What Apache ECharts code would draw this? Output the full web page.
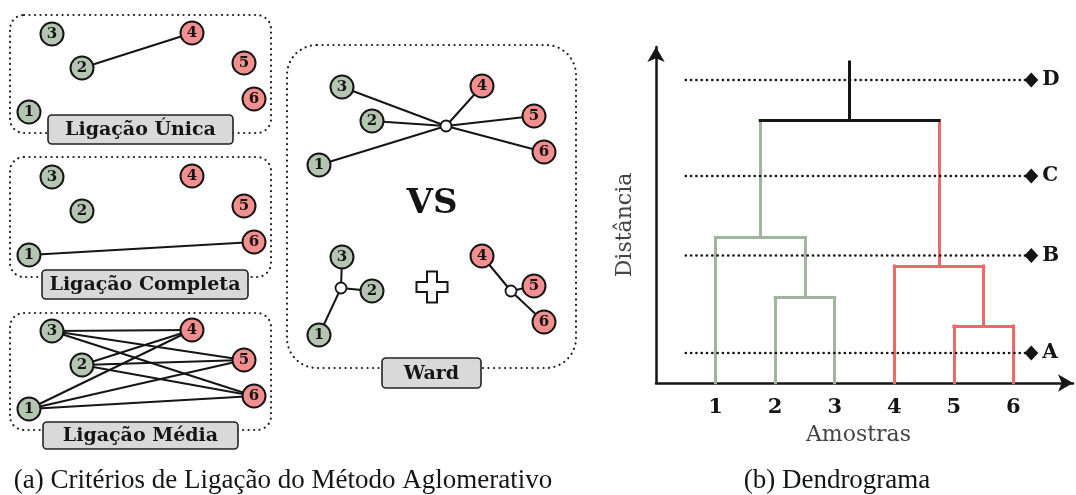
<!DOCTYPE html>
<html>
<head>
<meta charset="utf-8">
<script src="https://cdn.jsdelivr.net/npm/echarts@6/dist/echarts.min.js"></script>
<style>
  html, body { margin: 0; padding: 0; background: #ffffff; }
  #chart { width: 1076px; height: 495px; }
</style>
</head>
<body>
<div id="chart"></div>
<script>
// ---- Six samples in a 2-D feature plane (same layout in every linkage panel)
const sampleNames = ['1', '2', '3', '4', '5', '6'];
const sampleX = [29, 82, 52, 192, 244, 254];
const sampleY = [112, 68, 34, 33, 63, 99];
const sampleGroup = [0, 0, 0, 1, 1, 1];

// ---- Pairs joined by each linkage criterion (sample indices)
const singleLinks = [[1, 3]];
const completeLinks = [[0, 5]];
const averageLinks = [[0, 3], [0, 4], [0, 5], [1, 3], [1, 4], [1, 5], [2, 3], [2, 4], [2, 5]];

// ---- Ward: centroid of the merged cluster vs centroids of the two clusters
const wardHubAll = [156, 73];
const wardHubGreen = [51, 65];
const wardHubRed = [221, 68];

// ---- Dendrogram: merges as [childA, childB, height]; new cluster ids start at 6
const leafLabels = ['1', '2', '3', '4', '5', '6'];
const merges = [[1, 2, 2.85], [4, 5, 1.9], [3, 7, 3.9], [0, 6, 4.85], [9, 8, 8.75]];
const rootStemTop = 10.7;
const cutNames = ['A', 'B', 'C', 'D'];
const cutHeights = [1.0, 4.25, 6.9, 10.1];

// ---- Panel texts
const panelTitles = ['Ligação Única', 'Ligação Completa', 'Ligação Média', 'Ward'];
const captionA = '(a) Critérios de Ligação do Método Aglomerativo';
const captionB = '(b) Dendrograma';

// ---- Styling
const SERIF = '"DejaVu Serif", serif';
const INK = '#151515';
const NODE_FILL = ['#b4c5b1', '#f48f8f'];
const TREE_COLOR = ['#a2b4a0', '#ee6a6a'];

// grid origins for the five point diagrams (3 linkage panels + 2 Ward views)
const panelOrigins = [[0, 0], [0, 143], [0, 297], [290, 53], [290, 223]];
const PANEL_W = 280, PANEL_H = 150;

function sampleNodes() {
  return sampleNames.map((n, i) => ({
    name: n,
    value: [sampleX[i], sampleY[i]],
    symbolSize: 23,
    itemStyle: { color: NODE_FILL[sampleGroup[i]], borderColor: INK, borderWidth: 2 },
    label: { show: true }
  }));
}
function hubNode(name, p) {
  return {
    name: name, value: p, symbolSize: 11,
    itemStyle: { color: '#ffffff', borderColor: INK, borderWidth: 1.8 },
    label: { show: false }
  };
}
function graphSeries(idx, nodes, links) {
  return {
    type: 'graph', layout: 'none', coordinateSystem: 'cartesian2d',
    xAxisIndex: idx, yAxisIndex: idx, silent: true, z: 3,
    data: nodes,
    links: links.map(([s, t]) => ({ source: s, target: t })),
    lineStyle: { color: INK, width: 2, opacity: 1, curveness: 0 },
    label: { position: 'inside', formatter: '{b}', fontFamily: SERIF, fontWeight: 'bold', fontSize: 15, color: INK },
    emphasis: { disabled: true }
  };
}

const grids = [], xAxes = [], yAxes = [];
panelOrigins.forEach(([l, t], i) => {
  grids.push({ left: l, top: t, width: PANEL_W, height: PANEL_H });
  xAxes.push({ gridIndex: i, type: 'value', min: 0, max: PANEL_W, show: false });
  yAxes.push({ gridIndex: i, type: 'value', min: 0, max: PANEL_H, inverse: true, show: false });
});

// dendrogram grid
const DG = 5;
grids.push({ left: 656, top: 47, width: 418, height: 336 });
xAxes.push({
  gridIndex: DG, type: 'value', min: 0, max: 7, interval: 1,
  axisLine: { show: true, symbol: ['none', 'arrow'], symbolSize: [13, 15], lineStyle: { color: INK, width: 2.5 } },
  axisTick: { show: false }, splitLine: { show: false },
  axisLabel: {
    formatter: v => (v >= 1 && v <= leafLabels.length) ? leafLabels[v - 1] : '',
    fontFamily: SERIF, fontWeight: 'bold', fontSize: 21, color: INK, margin: 14
  },
  name: 'Amostras', nameLocation: 'middle', nameGap: 41,
  nameTextStyle: { fontFamily: SERIF, fontSize: 22, color: '#444444', padding: [0, 12, 0, 0] }
});
yAxes.push({
  gridIndex: DG, type: 'value', min: 0, max: 11.2,
  axisLine: { show: true, symbol: ['none', 'arrow'], symbolSize: [13, 15], lineStyle: { color: INK, width: 2.5 } },
  axisTick: { show: false }, splitLine: { show: false }, axisLabel: { show: false },
  name: 'Distância', nameLocation: 'middle', nameGap: 20, nameRotate: 90,
  nameTextStyle: { fontFamily: SERIF, fontSize: 22, color: '#444444', padding: [0, 20, 0, 0] }
});

// ---- dendrogram geometry from the merge table
const nLeaf = leafLabels.length;
const pos = [], hgt = [], grp = [];
for (let i = 0; i < nLeaf; i++) { pos[i] = i + 1; hgt[i] = 0; grp[i] = sampleGroup[i]; }
merges.forEach(([a, b, h], k) => {
  const id = nLeaf + k;
  pos[id] = (pos[a] + pos[b]) / 2;
  hgt[id] = h;
  grp[id] = grp[a] === grp[b] ? grp[a] : -1;
});
const colorOf = g => g < 0 ? INK : TREE_COLOR[g];
const verticals = [], horizontals = [];
merges.forEach(([a, b, h], k) => {
  const id = nLeaf + k;
  [a, b].forEach(c => verticals.push({
    coords: [[pos[c], hgt[c]], [pos[c], h]], lineStyle: { color: colorOf(grp[c]) }
  }));
  horizontals.push({ coords: [[pos[a], h], [pos[b], h]], lineStyle: { color: colorOf(grp[id]) } });
});
const root = nLeaf + merges.length - 1;
verticals.push({ coords: [[pos[root], hgt[root]], [pos[root], rootStemTop]], lineStyle: { color: colorOf(grp[root]) } });

const series = [
  graphSeries(0, sampleNodes(), singleLinks),
  graphSeries(1, sampleNodes(), completeLinks),
  graphSeries(2, sampleNodes(), averageLinks),
  graphSeries(3, sampleNodes().concat([hubNode('c', wardHubAll)]),
    sampleNames.map((n, i) => [i, 6])),
  graphSeries(4, sampleNodes().concat([hubNode('cg', wardHubGreen), hubNode('cr', wardHubRed)]),
    sampleNames.map((n, i) => [i, sampleGroup[i] === 0 ? 6 : 7])),
  {
    type: 'lines', coordinateSystem: 'cartesian2d', xAxisIndex: DG, yAxisIndex: DG,
    polyline: false, silent: true, z: 3,
    lineStyle: { width: 3, opacity: 1, curveness: 0, cap: 'square' },
    data: verticals.concat(horizontals)
  }
];
cutNames.forEach((name, i) => {
  series.push({
    type: 'line', name: name, xAxisIndex: DG, yAxisIndex: DG, silent: true, z: 4,
    data: [
      { value: [0.5, cutHeights[i]], symbol: 'none' },
      { value: [6.3, cutHeights[i]], symbol: 'diamond', symbolSize: [14, 15] }
    ],
    showSymbol: true,
    itemStyle: { color: INK },
    lineStyle: { color: INK, width: 2.6, type: [0.1, 5.2], cap: 'round' },
    endLabel: { show: true, formatter: '{a}', fontFamily: SERIF, fontWeight: 'bold', fontSize: 20, color: INK, distance: 11 },
    animation: false
  });
});

// ---- frames and title tags of the left diagrams
const frames = [
  { x: 10, y: 15, w: 261, h: 118, r: 14 },
  { x: 10, y: 157, w: 261, h: 120, r: 14 },
  { x: 10, y: 313, w: 261, h: 117, r: 14 },
  { x: 287, y: 45, w: 289, h: 323, r: 30 }
];
const tags = [
  { x: 48, y: 115, w: 185, h: 29 },
  { x: 42, y: 270, w: 206, h: 29 },
  { x: 43, y: 422, w: 195, h: 27 },
  { x: 382, y: 358, w: 99, h: 30 }
];
const graphic = [];
frames.forEach(f => graphic.push({
  type: 'rect', silent: true, z: 1,
  shape: { x: f.x, y: f.y, width: f.w, height: f.h, r: f.r },
  style: { fill: 'none', stroke: '#222', lineWidth: 2.2, lineDash: [0.1, 5.4], lineCap: 'round' }
}));
tags.forEach((t, i) => {
  graphic.push({
    type: 'rect', silent: true, z: 10,
    shape: { x: t.x, y: t.y, width: t.w, height: t.h, r: 4 },
    style: { fill: '#d9d9d9', stroke: '#222', lineWidth: 1.6 }
  });
  graphic.push({
    type: 'text', silent: true, z: 11,
    style: {
      x: t.x + t.w / 2, y: t.y + t.h / 2 + 1, text: panelTitles[i],
      align: 'center', verticalAlign: 'middle',
      font: 'bold 19px "DejaVu Serif"', fill: INK
    }
  });
});
// "VS" and the plus between the two Ward views
graphic.push({
  type: 'text', silent: true, z: 11,
  style: { x: 432, y: 204, text: 'VS', align: 'center', verticalAlign: 'middle', font: 'bold 34px "DejaVu Serif"', fill: INK }
});
(function () {
  const cx = 432, cy = 287, a = 15.5, b = 5;
  graphic.push({
    type: 'polygon', silent: true, z: 11,
    shape: { points: [
      [cx - b, cy - a], [cx + b, cy - a], [cx + b, cy - b], [cx + a, cy - b], [cx + a, cy + b], [cx + b, cy + b],
      [cx + b, cy + a], [cx - b, cy + a], [cx - b, cy + b], [cx - a, cy + b], [cx - a, cy - b], [cx - b, cy - b]
    ] },
    style: { fill: '#ffffff', stroke: INK, lineWidth: 2 }
  });
})();
// sub-figure captions
graphic.push({
  type: 'text', silent: true,
  style: { x: 283, y: 481, text: captionA, align: 'center', verticalAlign: 'middle', font: '27px "Liberation Serif"', fill: INK }
});
graphic.push({
  type: 'text', silent: true,
  style: { x: 837, y: 481, text: captionB, align: 'center', verticalAlign: 'middle', font: '27px "Liberation Serif"', fill: INK }
});

const chart = echarts.init(document.getElementById('chart'), null, { renderer: 'canvas' });
chart.setOption({
  animation: false,
  backgroundColor: '#ffffff',
  grid: grids,
  xAxis: xAxes,
  yAxis: yAxes,
  series: series,
  graphic: graphic
});
</script>
</body>
</html>
